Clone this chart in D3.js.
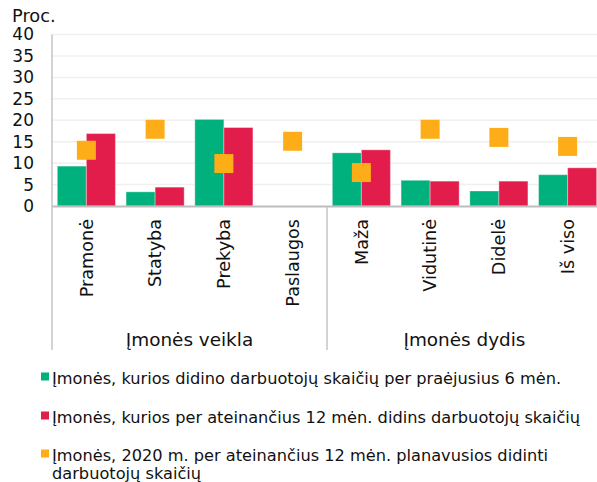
<!DOCTYPE html>
<html><head><meta charset="utf-8">
<script src="https://cdn.jsdelivr.net/npm/d3@7"></script>
<style>
html,body{margin:0;padding:0;background:#fff;}
svg{display:block;font-family:"DejaVu Sans",Verdana,sans-serif;}
</style></head>
<body>
<script>
const categories = ["Pramonė","Statyba","Prekyba","Paslaugos","Maža","Vidutinė","Didelė","Iš viso"];
const groups = [
  {name:"Įmonės veikla", from:0, to:4},
  {name:"Įmonės dydis", from:4, to:8}
];
const seriesPast6 = [9.3, 3.3, 20.2, 0, 12.4, 6.0, 3.5, 7.3];
const seriesNext12 = [16.9, 4.4, 18.3, 0, 13.1, 5.8, 5.8, 8.9];
const seriesPlan2020 = [13.0, 17.9, 9.9, 15.1, 7.8, 17.9, 16.0, 13.9];
const yTicks = [0,5,10,15,20,25,30,35,40];
const seriesNames = [
  ["Įmonės, kurios didino darbuotojų skaičių per praėjusius 6 mėn."],
  ["Įmonės, kurios per ateinančius 12 mėn. didins darbuotojų skaičių"],
  ["Įmonės, 2020 m. per ateinančius 12 mėn. planavusios didinti","darbuotojų skaičių"]
];
const colors = ["#00b07d","#e31d4b","#fdad18"];

const W=597,H=482;
const svg=d3.select("body").append("svg").attr("width",W).attr("height",H);
const x0=52, x1=602, yBase=206, yTop=34.5;
const x=d3.scaleBand().domain(categories).range([x0,x1]).paddingInner(0.155).paddingOuter(0.0775);
const xs=d3.scaleBand().domain([0,1]).range([0,x.bandwidth()]);
const y=d3.scaleLinear().domain([0,40]).range([yBase,yTop]);
const fs=17;

// gridlines
svg.append("g").selectAll("line").data(yTicks.filter(t=>t>0)).join("line")
  .attr("x1",x0).attr("x2",W).attr("y1",d=>y(d)).attr("y2",d=>y(d))
  .attr("stroke","#f0f0f0").attr("stroke-width",1.5);

// y labels
svg.append("g").selectAll("text").data(yTicks).join("text")
  .attr("x",34).attr("y",d=>y(d)).attr("dy","0.35em").attr("text-anchor","end")
  .attr("font-size",fs).attr("fill","#111").text(d=>d);
svg.append("text").attr("x",12).attr("y",22).attr("font-size",17.8).attr("fill","#111").text("Proc.");

// bars
const bars=[seriesPast6,seriesNext12];
bars.forEach((s,si)=>{
  svg.append("g").selectAll("rect").data(categories).join("rect")
    .attr("x",(c)=>x(c)+xs(si)).attr("width",xs.bandwidth())
    .attr("y",(c,i)=>y(s[i])).attr("height",(c,i)=>yBase-y(s[i]))
    .attr("fill",colors[si]).attr("stroke","#fff").attr("stroke-opacity",0.35).attr("stroke-width",1);
});
// squares
const sq=19;
svg.append("g").selectAll("rect").data(categories).join("rect")
  .attr("x",c=>x(c)+x.bandwidth()/2-sq/2).attr("y",(c,i)=>y(seriesPlan2020[i])-sq/2)
  .attr("width",sq).attr("height",sq).attr("fill",colors[2]);

// axes lines
svg.append("line").attr("x1",x0).attr("x2",W).attr("y1",yBase+0.5).attr("y2",yBase+0.5)
  .attr("stroke","#bdbdbd").attr("stroke-width",2);
svg.append("line").attr("x1",x0).attr("x2",x0).attr("y1",yTop).attr("y2",350)
  .attr("stroke","#c4c4c4").attr("stroke-width",1.5);
svg.append("line").attr("x1",x0+(x1-x0)/2).attr("x2",x0+(x1-x0)/2).attr("y1",yBase).attr("y2",350)
  .attr("stroke","#c4c4c4").attr("stroke-width",1.5);

// x labels
svg.append("g").selectAll("text").data(categories).join("text")
  .attr("transform",c=>`translate(${x(c)+x.bandwidth()/2},219) rotate(-90)`)
  .attr("dy","0.35em").attr("text-anchor","end").attr("font-size",17.6).attr("fill","#111").text(c=>c);

// group labels
const gx=d3.scaleLinear().domain([0,8]).range([x0,x1]);
svg.append("g").selectAll("text").data(groups).join("text")
  .attr("x",g=>(gx(g.from)+gx(g.to))/2).attr("y",346).attr("text-anchor","middle")
  .attr("font-size",18.4).attr("fill","#111").text(g=>g.name);

// legend
const legY=[384,423,461];
seriesNames.forEach((lines,i)=>{
  svg.append("rect").attr("x",41).attr("y",legY[i]-11.5).attr("width",8).attr("height",8).attr("fill",colors[i]);
  lines.forEach((t,j)=>{
    svg.append("text").attr("x",52).attr("y",legY[i]+j*18).attr("font-size",16.2).attr("fill","#111").text(t);
  });
});
</script>
</body></html>
